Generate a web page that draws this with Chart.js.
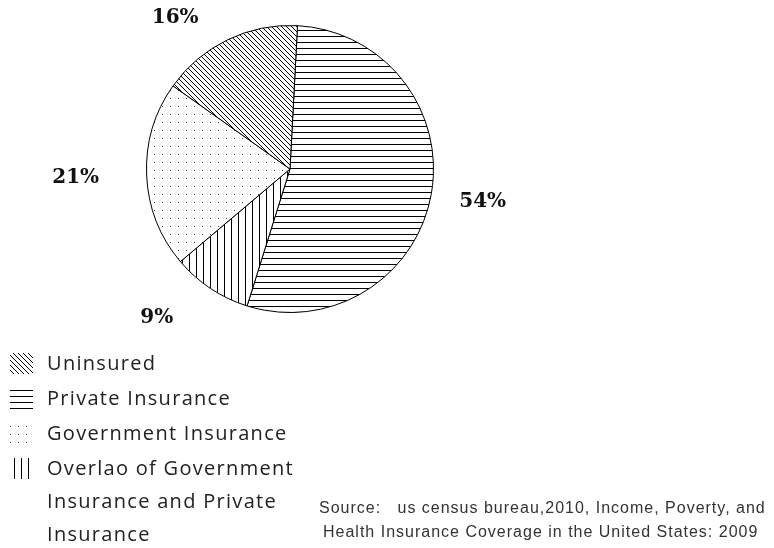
<!DOCTYPE html>
<html>
<head>
<meta charset="utf-8">
<script src="https://cdn.jsdelivr.net/npm/chart.js@4.4.0/dist/chart.umd.min.js"></script>
<style>
  html, body { margin: 0; padding: 0; background: #fff; }
  #wrap { width: 774px; height: 548px; position: relative; }
</style>
</head>
<body>
<div id="wrap"><canvas id="pie" width="774" height="548"></canvas></div>
<script>
// data
const categories = ['Private Insurance', 'Overlao of Government Insurance and Private Insurance', 'Government Insurance', 'Uninsured'];
const shares = [54, 9, 21, 16];
const legendOrder = [3, 0, 2, 1];
const legendLines = [['Uninsured'], ['Private Insurance'], ['Government Insurance'], ['Overlao of Government', 'Insurance and Private', 'Insurance']];
const sourceLines = ['Source:   us census bureau,2010, Income, Poverty, and', 'Health Insurance Coverage in the United States: 2009'];

// fill patterns
function makePattern(kind) {
    const c = document.createElement('canvas');
    const x = c.getContext('2d');
    if (kind === 'h') {
        c.width = 4; c.height = 6;
        x.fillStyle = '#fff'; x.fillRect(0, 0, 4, 6);
        x.fillStyle = '#000'; x.fillRect(0, 0, 4, 1);
    } else if (kind === 'v') {
        c.width = 7; c.height = 4;
        x.fillStyle = '#fff'; x.fillRect(0, 0, 7, 4);
        x.fillStyle = '#000'; x.fillRect(0, 0, 1, 4);
    } else if (kind === 'd') {
        c.width = 5; c.height = 5;
        x.fillStyle = '#fff'; x.fillRect(0, 0, 5, 5);
        x.fillStyle = '#000';
        for (let i = 0; i < 5; i++) x.fillRect(i, i, 1, 1);
    } else {
        c.width = 8; c.height = 8;
        x.fillStyle = '#fff'; x.fillRect(0, 0, 8, 8);
        x.fillStyle = '#444'; x.fillRect(2, 2, 1, 1);
    }
    return x.createPattern(c, 'repeat');
}
const fills = [makePattern('h'), makePattern('v'), makePattern('o'), makePattern('d')];

// nudges for the percent labels (angle in degrees, distance past the rim)
const labelNudge = [[-0.5, 52], [8.3, 56], [0, 71], [-11.5, 46]];

const overlay = {
    id: 'overlay',
    afterDraw(chart) {
        const ctx = chart.ctx;
        const arcs = chart.getDatasetMeta(0).data;
        ctx.save();
        ctx.fillStyle = '#111';
        ctx.font = 'bold 20px "DejaVu Serif"';
        ctx.textAlign = 'center';
        ctx.textBaseline = 'middle';
        arcs.forEach((arc, i) => {
            const mid = (arc.startAngle + arc.endAngle) / 2 + labelNudge[i][0] * Math.PI / 180;
            const r = arc.outerRadius + labelNudge[i][1];
            ctx.fillText(shares[i] + '%', arc.x + Math.cos(mid) * r, arc.y + Math.sin(mid) * r);
        });

        // legend
        ctx.textAlign = 'left';
        ctx.font = '20px "Open Sans"';
        ctx.letterSpacing = '1.3px';
        let y = 364;
        legendOrder.forEach((idx, k) => {
            ctx.fillStyle = fills[idx];
            ctx.fillRect(10, y - 11, 23, 21);
            ctx.fillStyle = '#222';
            legendLines[k].forEach(line => {
                ctx.fillText(line, 47, y);
                y += k === 3 ? 33 : 35;
            });
        });

        // source note
        ctx.font = '16px "Liberation Sans"';
        ctx.letterSpacing = '1px';
        ctx.fillStyle = '#333';
        ctx.fillText(sourceLines[0], 319, 509);
        ctx.fillText(sourceLines[1], 323, 533);
        ctx.restore();
    }
};

new Chart(document.getElementById('pie'), {
    type: 'pie',
    data: {
        labels: categories,
        datasets: [{
            data: shares,
            backgroundColor: fills,
            borderColor: '#000',
            borderWidth: 1
        }]
    },
    options: {
        responsive: false,
        animation: false,
        rotation: 3,
        layout: { padding: { left: 146, right: 340, top: 25, bottom: 235 } },
        plugins: {
            legend: { display: false },
            tooltip: { enabled: false }
        }
    },
    plugins: [overlay]
});
</script>
</body>
</html>
